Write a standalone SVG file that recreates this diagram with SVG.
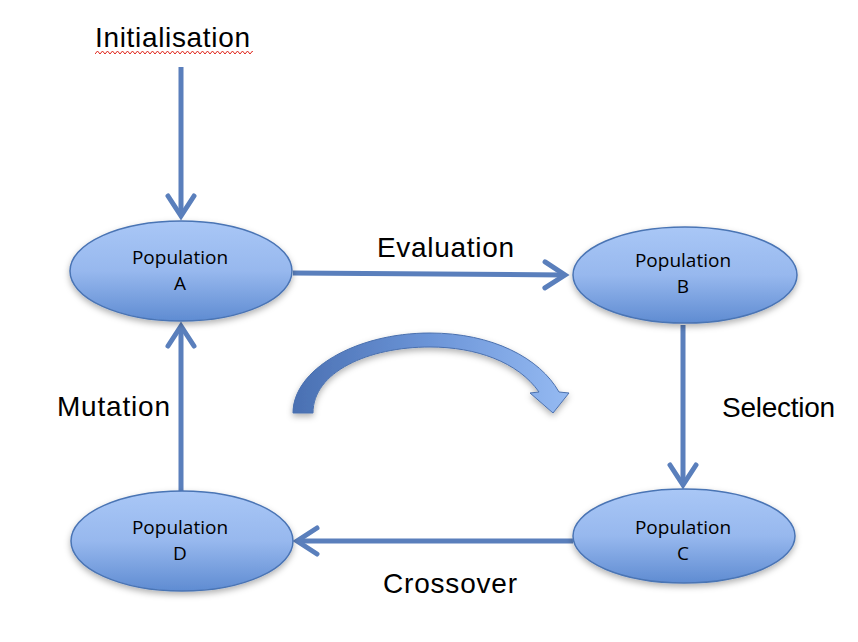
<svg xmlns="http://www.w3.org/2000/svg" width="858" height="642" viewBox="0 0 858 642">
  <style>
    .node ellipse { fill: url(#nodeGrad); stroke: #4A74B4; stroke-width: 1.5; filter: url(#shadow); }
    .ntext { font-family: "Open Sans", "DejaVu Sans", sans-serif; font-size: 19px; fill: #000; text-anchor: middle; }
    .label { font-family: "Liberation Sans", Arial, sans-serif; font-size: 28px; fill: #000; }
    .conn { fill: none; stroke: #5A7FBC; stroke-width: 5; marker-end: url(#chev); }
  </style>
  <defs>
    <linearGradient id="nodeGrad" x1="0" y1="0" x2="0" y2="1">
      <stop offset="0" stop-color="#A9C7F6"/>
      <stop offset="0.5" stop-color="#97B8EE"/>
      <stop offset="1" stop-color="#5F8CD2"/>
    </linearGradient>
    <linearGradient id="curveGrad" x1="0" y1="0" x2="1" y2="0">
      <stop offset="0" stop-color="#4A70B2"/>
      <stop offset="0.5" stop-color="#6C95D8"/>
      <stop offset="1" stop-color="#95BAF2"/>
    </linearGradient>
    <pattern id="squiggle" patternUnits="userSpaceOnUse" x="95" y="50" width="5" height="5">
      <path d="M0 4 L2.5 1 L5 4" fill="none" stroke="#E0261C" stroke-width="1"/>
    </pattern>
    <filter id="shadow" x="-20%" y="-20%" width="140%" height="160%">
      <feDropShadow dx="0" dy="3" stdDeviation="3" flood-color="#000" flood-opacity="0.3"/>
    </filter>
    <marker id="chev" markerUnits="userSpaceOnUse" viewBox="-30 -20 40 40" markerWidth="40" markerHeight="40" refX="0" refY="0" orient="auto">
      <path d="M-20,-13 L0,0 L-20,13" fill="none" stroke="#5A7FBC" stroke-width="5" stroke-linejoin="miter" stroke-linecap="round"/>
    </marker>
  </defs>
  <rect width="858" height="642" fill="#FFFFFF"/>

  <g id="connectors">
    <path id="c-init" class="conn" d="M181 67 V216"/>
    <path id="c-eval" class="conn" d="M293 273 L565 275"/>
    <path id="c-sel" class="conn" d="M683 325 V485"/>
    <path id="c-cross" class="conn" d="M573 541 H297"/>
    <path id="c-mut" class="conn" d="M181 491 V326"/>
  </g>

  <g id="cycle-arrow">
    <path d="M293 413 C293 370 355 333 430 333 C492 333 540 358 559 392 L569 393 L553 413 L530 393 L539 392 C518 362 476 347 430 347 C368 347 313 372 313 413 Z" fill="url(#curveGrad)" stroke="#4A70AE" stroke-width="1" filter="url(#shadow)"/>
  </g>

  <g id="node-A" class="node">
    <ellipse cx="181" cy="271" rx="111" ry="50"/>
    <text class="ntext" x="180" y="264">Population</text>
    <text class="ntext" x="180" y="290">A</text>
  </g>
  <g id="node-B" class="node">
    <ellipse cx="685" cy="275" rx="112" ry="48"/>
    <text class="ntext" x="683" y="267">Population</text>
    <text class="ntext" x="683" y="293">B</text>
  </g>
  <g id="node-C" class="node">
    <ellipse cx="684" cy="536" rx="111" ry="47"/>
    <text class="ntext" x="683" y="534">Population</text>
    <text class="ntext" x="683" y="560">C</text>
  </g>
  <g id="node-D" class="node">
    <ellipse cx="182" cy="541" rx="111" ry="50"/>
    <text class="ntext" x="180" y="534">Population</text>
    <text class="ntext" x="180" y="560">D</text>
  </g>

  <g id="labels">
    <text id="lbl-init" class="label" x="95" y="47" textLength="155">Initialisation</text>
    <rect x="95" y="50" width="158" height="5" fill="url(#squiggle)"/>
    <text id="lbl-eval" class="label" x="377" y="257" textLength="137">Evaluation</text>
    <text id="lbl-sel" class="label" x="722" y="417" textLength="113">Selection</text>
    <text id="lbl-cross" class="label" x="383" y="593" textLength="134">Crossover</text>
    <text id="lbl-mut" class="label" x="57" y="416" textLength="113">Mutation</text>
  </g>
</svg>
